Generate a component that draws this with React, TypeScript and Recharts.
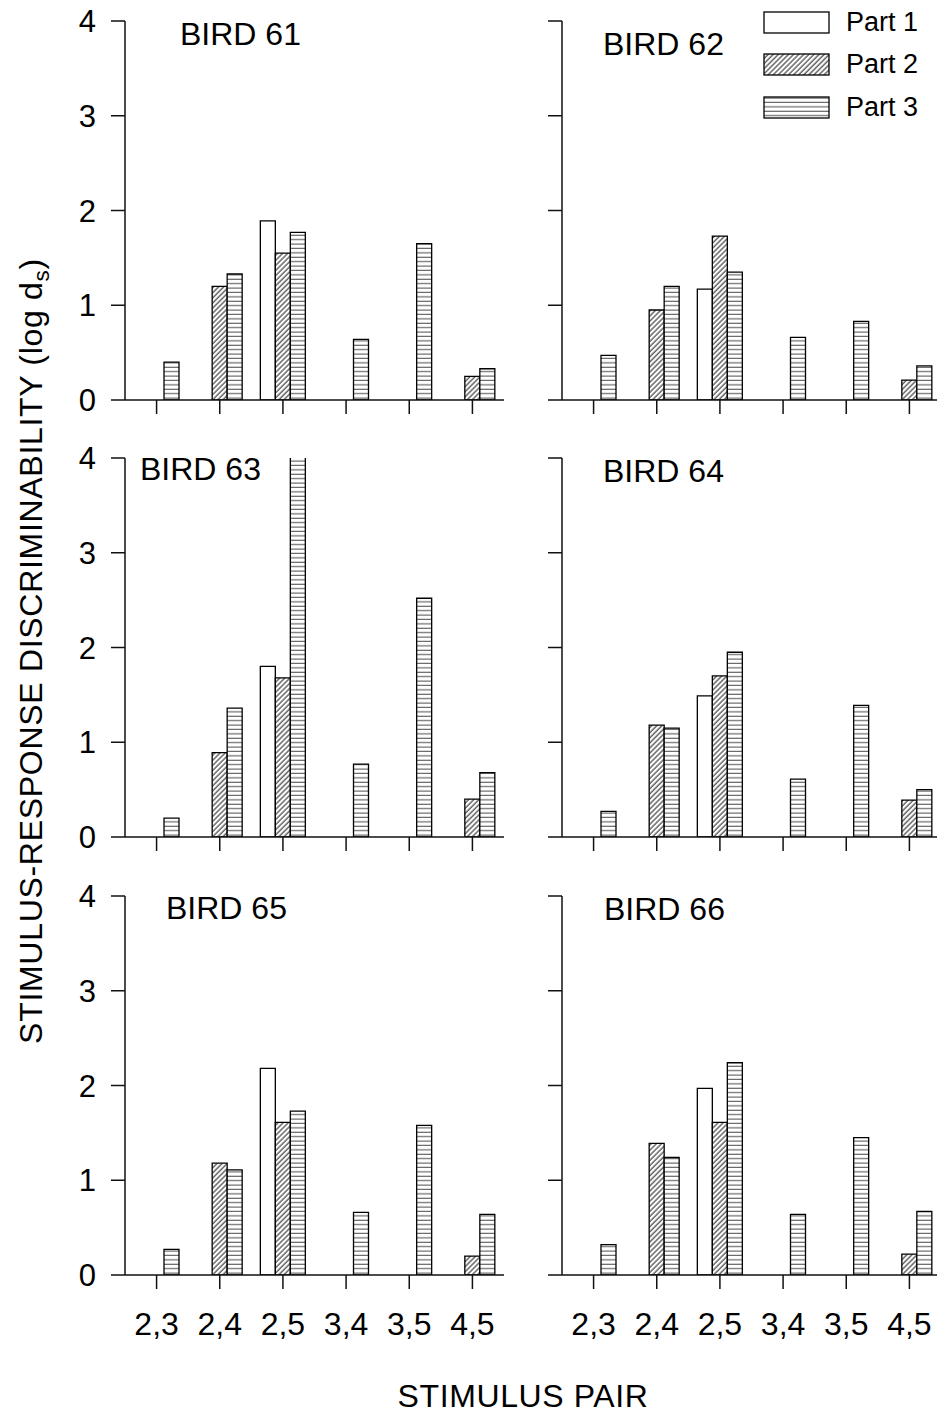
import React from 'react';
import { BarChart, Bar, XAxis, YAxis, Legend } from 'recharts';

const pairs = ['2,3', '2,4', '2,5', '3,4', '3,5', '4,5'];
const yTicks = [0, 1, 2, 3, 4];
const partNames = ['Part 1', 'Part 2', 'Part 3'];
const birdNames = ['BIRD 61', 'BIRD 62', 'BIRD 63', 'BIRD 64', 'BIRD 65', 'BIRD 66'];

// log ds values per stimulus pair
const bird61Part1 = [0, 0, 1.89, 0, 0, 0];
const bird61Part2 = [0, 1.2, 1.55, 0, 0, 0.25];
const bird61Part3 = [0.4, 1.33, 1.77, 0.64, 1.65, 0.33];

const bird62Part1 = [0, 0, 1.17, 0, 0, 0];
const bird62Part2 = [0, 0.95, 1.73, 0, 0, 0.21];
const bird62Part3 = [0.47, 1.2, 1.35, 0.66, 0.83, 0.36];

const bird63Part1 = [0, 0, 1.8, 0, 0, 0];
const bird63Part2 = [0, 0.89, 1.68, 0, 0, 0.4];
const bird63Part3 = [0.2, 1.36, 4.3, 0.77, 2.52, 0.68];

const bird64Part1 = [0, 0, 1.49, 0, 0, 0];
const bird64Part2 = [0, 1.18, 1.7, 0, 0, 0.39];
const bird64Part3 = [0.27, 1.15, 1.95, 0.61, 1.39, 0.5];

const bird65Part1 = [0, 0, 2.18, 0, 0, 0];
const bird65Part2 = [0, 1.18, 1.61, 0, 0, 0.2];
const bird65Part3 = [0.27, 1.11, 1.73, 0.66, 1.58, 0.64];

const bird66Part1 = [0, 0, 1.97, 0, 0, 0];
const bird66Part2 = [0, 1.39, 1.61, 0, 0, 0.22];
const bird66Part3 = [0.32, 1.24, 2.24, 0.64, 1.45, 0.67];

const panelParts = [
  [bird61Part1, bird61Part2, bird61Part3],
  [bird62Part1, bird62Part2, bird62Part3],
  [bird63Part1, bird63Part2, bird63Part3],
  [bird64Part1, bird64Part2, bird64Part3],
  [bird65Part1, bird65Part2, bird65Part3],
  [bird66Part1, bird66Part2, bird66Part3],
];

const FONT = '"Liberation Sans", Arial, Helvetica, sans-serif';
const AXIS = '#111';

// layout
const rowTops = [0, 437, 875];
const plotTop = 21;
const plotHeight = 379;
const colLeft = [0, 440];
const colWidth = [504, 501];
const yAxisWidth = [125, 122];
const titlePos = [
  { left: 180, top: 18 },
  { left: 603, top: 28 },
  { left: 140, top: 453 },
  { left: 603, top: 455 },
  { left: 166, top: 892 },
  { left: 604, top: 893 },
];

const fillFor = (idx: number, part: number) =>
  part === 0 ? '#fff' : part === 1 ? `url(#hatch-${idx})` : `url(#hlines-${idx})`;

const hiddenTick = () => <g />;

function LegendBox({ payload, idx }: any) {
  return (
    <div style={{ fontFamily: FONT, fontSize: 27, color: '#000' }}>
      {(payload || []).map((entry: any, i: number) => (
        <div key={i} style={{ display: 'flex', alignItems: 'center', height: 22, marginBottom: i < 2 ? 20.5 : 0 }}>
          <svg width={67} height={23}>
            <rect x={1} y={1} width={65} height={21} fill={fillFor(idx, i)} stroke="#000" strokeWidth={1.3} />
          </svg>
          <span style={{ marginLeft: 16, lineHeight: 1 }}>{entry.value}</span>
        </div>
      ))}
    </div>
  );
}

function Panel({ idx }: { idx: number }) {
  const col = idx % 2;
  const row = Math.floor(idx / 2);
  const [p1, p2, p3] = panelParts[idx];
  const data = pairs.map((pair, i) => ({ pair, part1: p1[i], part2: p2[i], part3: p3[i] }));
  const bottomRow = row === 2;
  const xAxisHeight = 80;

  return (
    <div style={{ position: 'absolute', left: colLeft[col], top: rowTops[row] }}>
      <BarChart
        width={colWidth[col]}
        height={plotTop + plotHeight + xAxisHeight}
        data={data}
        margin={{ top: plotTop, right: 0, bottom: 0, left: 0 }}
        barGap={0}
        barSize={15}
      >
        <defs>
          <pattern id={`hatch-${idx}`} patternUnits="userSpaceOnUse" width="3.6" height="3.6" patternTransform="rotate(45)">
            <rect width="3.6" height="3.6" fill="#fff" />
            <line x1="1" y1="0" x2="1" y2="3.6" stroke="#000" strokeWidth="0.9" />
          </pattern>
          <pattern id={`hlines-${idx}`} patternUnits="userSpaceOnUse" width="10" height="4.4">
            <rect width="10" height="4.4" fill="#fff" />
            <line x1="0" y1="2" x2="10" y2="2" stroke="#333" strokeWidth="0.9" />
          </pattern>
        </defs>
        <XAxis
          dataKey="pair"
          height={xAxisHeight}
          tickSize={14}
          tickMargin={23}
          stroke={AXIS}
          strokeWidth={1.5}
          tick={bottomRow ? { fontSize: 32, fill: '#000', fontFamily: FONT } : hiddenTick}
        />
        <YAxis
          width={yAxisWidth[col]}
          domain={[0, 4]}
          ticks={yTicks}
          allowDataOverflow
          tickSize={14}
          tickMargin={15}
          stroke={AXIS}
          strokeWidth={1.5}
          tick={col === 0 ? { fontSize: 31, fill: '#000', fontFamily: FONT } : hiddenTick}
        />
        {idx === 1 && (
          <Legend
            layout="vertical"
            align="center"
            verticalAlign="middle"
            content={(props: any) => <LegendBox {...props} idx={idx} />}
            wrapperStyle={{ top: 11, left: 323, width: 180 }}
          />
        )}
        {['part1', 'part2', 'part3'].map((key, p) => (
          <Bar
            key={key}
            dataKey={key}
            name={partNames[p]}
            fill={fillFor(idx, p)}
            stroke="#000"
            strokeWidth={1.3}
            isAnimationActive={false}
          />
        ))}
      </BarChart>
      <div
        style={{
          position: 'absolute',
          left: titlePos[idx].left - colLeft[col],
          top: titlePos[idx].top - rowTops[row],
          fontFamily: FONT,
          fontSize: 32,
          lineHeight: 1,
          whiteSpace: 'nowrap',
          color: '#000',
        }}
      >
        {birdNames[idx]}
      </div>
    </div>
  );
}

export default function App() {
  return (
    <div
      style={{
        position: 'absolute',
        left: 0,
        top: 0,
        width: 937,
        height: 1416,
        overflow: 'hidden',
        background: '#fff',
        fontFamily: FONT,
      }}
    >
      {birdNames.map((_, i) => (
        <Panel key={i} idx={i} />
      ))}
      <div
        style={{
          position: 'absolute',
          left: 31,
          top: 651,
          transform: 'translate(-50%, -50%) rotate(-90deg)',
          whiteSpace: 'nowrap',
          fontSize: 32,
          letterSpacing: 0.7,
          lineHeight: 1,
          color: '#000',
        }}
      >
        STIMULUS-RESPONSE DISCRIMINABILITY (log d<sub style={{ fontSize: '0.7em', lineHeight: 0 }}>s</sub>)
      </div>
      <div
        style={{
          position: 'absolute',
          left: 523,
          top: 1396,
          transform: 'translate(-50%, -50%)',
          whiteSpace: 'nowrap',
          fontSize: 32,
          letterSpacing: 0.6,
          lineHeight: 1,
          color: '#000',
        }}
      >
        STIMULUS PAIR
      </div>
    </div>
  );
}
